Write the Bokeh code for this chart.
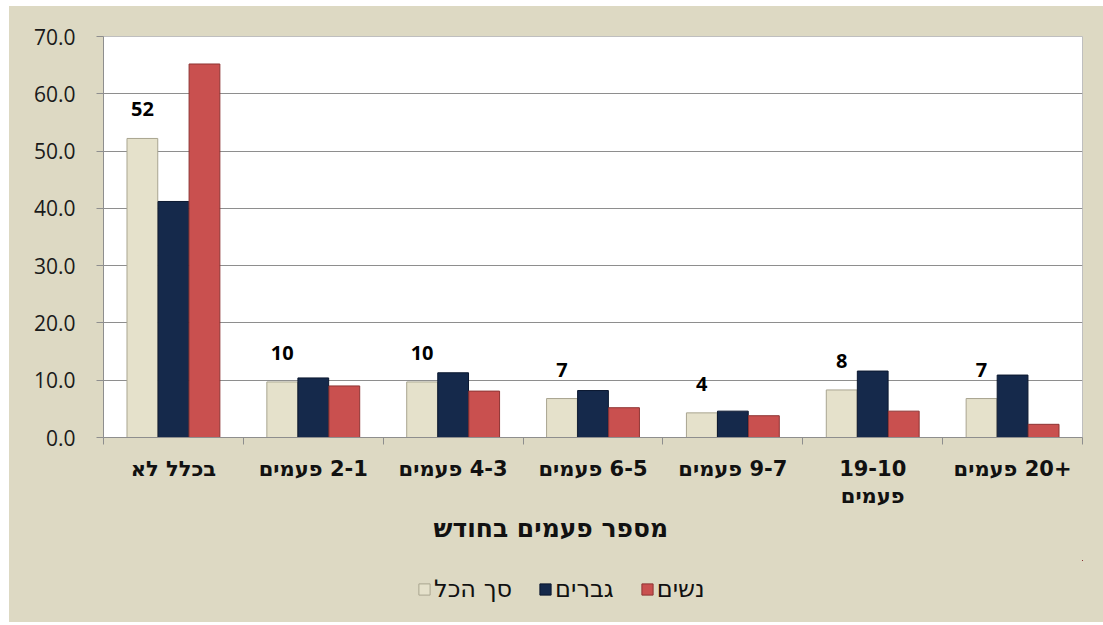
from bokeh.plotting import figure
from bokeh.models import (Range1d, LinearAxis, FixedTicker, NumeralTickFormatter, Legend,
                          LegendItem, Title, ColumnDataSource, Spacer)
from bokeh.layouts import row, column
from bokeh.transform import dodge
from bokeh.core.properties import value
from bokeh.embed import file_html
from bokeh.resources import INLINE

# ---- data ----
categories = ["בכלל לא", "2-1 פעמים", "4-3 פעמים", "6-5 פעמים", "9-7 פעמים", "19-10\nפעמים", "+20 פעמים"]
total = [52.2, 9.7, 9.7, 6.8, 4.3, 8.3, 6.8]
men = [41.2, 10.4, 11.3, 8.2, 4.6, 11.6, 10.9]
women = [65.2, 9.0, 8.1, 5.2, 3.8, 4.6, 2.3]
series_names = ["סך הכל", "גברים", "נשים"]
series_colors = ["#E5E1CB", "#15294B", "#C9504F"]
series_edges = ["#A9A590", "#0B1830", "#8E3433"]
x_title = "מספר פעמים בחודש"
y_ticks = [0, 10, 20, 30, 40, 50, 60, 70]

BG = "#DDD9C3"
GRID = "#8E8E8E"
HEB = "DejaVu Sans"
RLM = "\u200f"


def rtl(s):
    # render each line with right-to-left base direction, as in the source chart
    return "\n".join(RLM + ln for ln in s.split("\n"))


n = len(categories)
centers = [i + 0.5 for i in range(n)]
src = ColumnDataSource(dict(xc=centers, total=total, men=men, women=women,
                            lab=[str(int(round(v))) for v in total]))

p = figure(frame_width=979, frame_height=401, x_range=Range1d(0, n), y_range=Range1d(0, 70),
           x_axis_location=None, output_backend="svg", toolbar_location=None,
           min_border_left=94, min_border_right=21, min_border_top=30, min_border_bottom=123)
p.border_fill_color = BG
p.background_fill_color = "white"
p.outline_line_color = "#BFBFBF"

w = 0.22
offs = [-0.222, 0.0, 0.222]
cols = ["total", "men", "women"]
for k in range(3):
    p.vbar(x=dodge("xc", offs[k]), top=cols[k], width=w, source=src,
           fill_color=series_colors[k], line_color=series_edges[k], line_width=1)

p.text(x=dodge("xc", -0.222), y="total", text="lab", source=src,
       text_align="center", text_baseline="alphabetic", y_offset=-29,
       text_font=value("Open Sans"), text_font_style="bold", text_font_size="20px",
       text_color="black")

# y axis
p.yaxis.ticker = FixedTicker(ticks=y_ticks)
p.yaxis.formatter = NumeralTickFormatter(format="0.0")
p.yaxis.major_label_text_font = "Open Sans"
p.yaxis.major_label_text_font_size = "21px"
p.yaxis.major_label_text_color = "#1A1A1A"
p.yaxis.axis_line_color = GRID
p.yaxis.major_tick_line_color = GRID
p.yaxis.major_tick_out = 7
p.yaxis.major_tick_in = 0
p.yaxis.minor_tick_line_color = None
p.yaxis.major_label_standoff = 21

p.ygrid.grid_line_color = GRID
p.ygrid.ticker = FixedTicker(ticks=y_ticks)
p.xgrid.grid_line_color = None

# x axis: boundary ticks + category labels
tick_axis = LinearAxis(ticker=FixedTicker(ticks=list(range(n + 1))),
                       major_label_overrides={i: "" for i in range(n + 1)},
                       major_label_text_font_size="1px", major_label_standoff=0,
                       major_tick_out=7, major_tick_in=0, minor_tick_line_color=None,
                       axis_line_color=GRID, major_tick_line_color=GRID)
p.add_layout(tick_axis, "below")
cat_axis = LinearAxis(ticker=FixedTicker(ticks=centers),
                      major_label_overrides={c: rtl(t) for c, t in zip(centers, categories)},
                      major_tick_line_color=None, axis_line_color=None, major_tick_out=0,
                      minor_tick_line_color=None, axis_label_standoff=0,
                      major_label_standoff=12, major_label_text_font=HEB,
                      major_label_text_font_style="bold", major_label_text_font_size="21px",
                      major_label_text_line_height=1.15,
                      major_label_text_color="#111111")
p.add_layout(cat_axis, "below")

p.add_layout(Title(text=x_title, align="left", offset=330, standoff=0, text_font=HEB,
                   text_font_style="bold", text_font_size="25px", text_color="#111111"),
             "below")

# legend strip under the chart (same beige background); its bars lie far outside its view
lf = figure(width=1094, height=62, output_backend="svg", toolbar_location=None,
            x_range=Range1d(-20, -10), y_range=Range1d(-2, -1),
            x_axis_location=None, y_axis_location=None, min_border=0)
lf.border_fill_color = BG
lf.background_fill_color = None
lf.outline_line_color = None
lf.grid.visible = False
items = []
for k in range(3):
    rr = lf.vbar(x=dodge("xc", offs[k]), top=cols[k], bottom=0.5, width=w, source=src,
                 fill_color=series_colors[k], line_color=series_edges[k], line_width=1)
    items.append(LegendItem(label=series_names[k], renderers=[rr]))
legend = Legend(items=items, orientation="horizontal", location=(314, 19),
                background_fill_alpha=0, border_line_color=None, label_text_font=HEB,
                label_text_font_size="24px", label_text_color="#111111",
                glyph_width=14, glyph_height=14, label_standoff=3, spacing=26,
                padding=0, margin=0)
lf.add_layout(legend, "center")

inner = column(p, lf, spacing=0, styles={"background-color": BG})
layout = column(Spacer(height=6), row(Spacer(width=9), inner))
open("out.html", "w").write(file_html(layout, INLINE))
